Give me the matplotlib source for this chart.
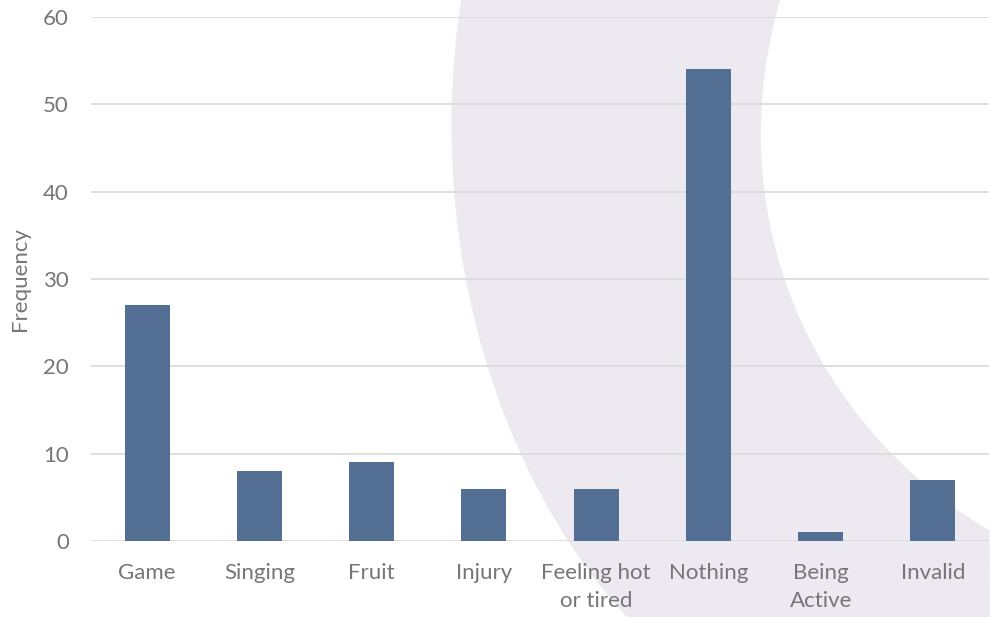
import matplotlib
matplotlib.use('Agg')
import matplotlib.pyplot as plt
import numpy as np
from matplotlib.patches import Polygon
from matplotlib.transforms import IdentityTransform

categories = ["Game", "Singing", "Fruit", "Injury", "Feeling hot\nor tired",
              "Nothing", "Being\nActive", "Invalid"]
frequency = [27, 8, 9, 6, 6, 54, 1, 7]
yticks = [0, 10, 20, 30, 40, 50, 60]

plt.rcParams['font.family'] = ['Lato', 'DejaVu Sans']
text_col = "#767676"
bar_col = "#536f93"

fig = plt.figure(figsize=(9.9, 6.17), dpi=100)
fig.patch.set_facecolor("white")

# decorative crescent behind the chart (pixel coords, y from top)
H = 617
outer_edge = [(461, 0), (452, 110), (455, 200), (465, 280), (488, 367),
              (522, 454), (567, 541), (627, 617)]
inner_edge = [(780, 0), (762, 110), (764, 192), (785, 280), (825, 367),
              (892, 453), (956, 510), (990, 530)]

def smooth(pts, deg=4):
    # least-squares curve through the traced edge points
    pts = np.array(pts, float)
    t = np.r_[0, np.cumsum(np.hypot(*np.diff(pts, axis=0).T))]
    t /= t[-1]
    tt = np.linspace(0, 1, 120)
    xs = np.polyval(np.polyfit(t, pts[:, 0], deg), tt)
    ys = np.polyval(np.polyfit(t, pts[:, 1], deg), tt)
    return np.column_stack([xs, H - ys])

outer = smooth(outer_edge)
inner = smooth(inner_edge)[::-1]
shape = np.vstack([outer, [(990, 0)], inner])
crescent = Polygon(shape, closed=True, facecolor="#ede9f1", edgecolor="none",
                   transform=IdentityTransform(), zorder=-10)
fig.patches.append(crescent)

ax = fig.add_axes([91/990, 76/617, 898/990, 524/617])
ax.set_facecolor("none")

x = range(len(categories))
ax.bar(x, frequency, width=0.4, color=bar_col, zorder=3)

ax.set_xlim(-0.5, len(categories) - 0.5)
ax.set_ylim(0, 60)
ax.set_yticks(yticks)
ax.set_xticks(list(x))
ax.set_xticklabels(categories, linespacing=1.5)
ax.yaxis.grid(True, color="#dcdcdc", linewidth=1.3, zorder=1)
ax.set_axisbelow(True)
for s in ax.spines.values():
    s.set_visible(False)
ax.tick_params(axis='both', length=0, labelsize=16, labelcolor=text_col)
ax.tick_params(axis='x', pad=16)
ax.tick_params(axis='y', pad=16)
ax.set_ylabel("Frequency", fontsize=16, color=text_col, labelpad=9)

fig.savefig("out.png", dpi=100)
